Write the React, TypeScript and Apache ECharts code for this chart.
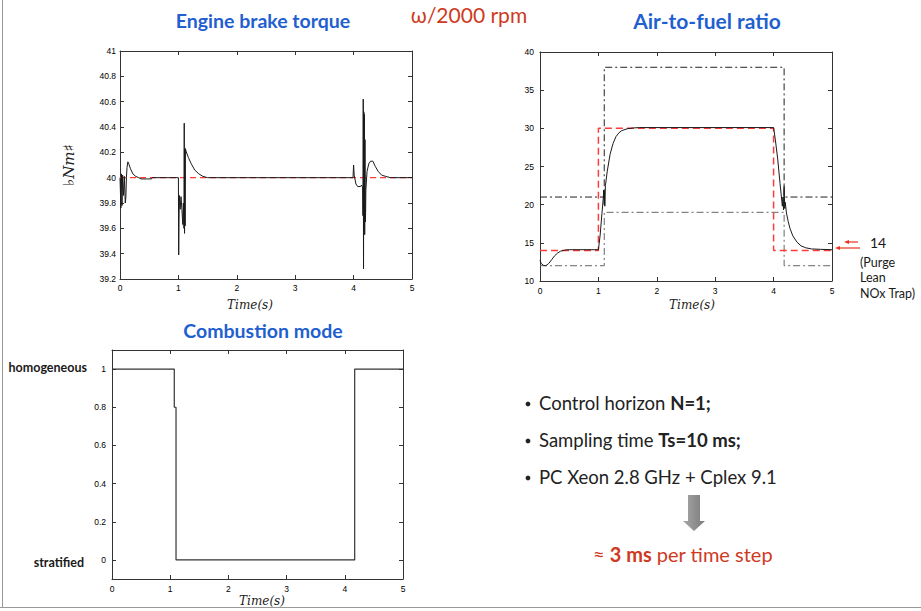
import React, { useEffect, useRef } from "react";
import * as echarts from "echarts";

// ---------- data ----------
const timeTicks = [0, 1, 2, 3, 4, 5];
const modeTicks = [0, 0.2, 0.4, 0.6, 0.8, 1];

const torqueRef: [number, number][] = [[0, 40], [5, 40]];
const torqueResp: [number, number][] = [
  [0, 40], [0.01, 40], [0.015, 39.76], [0.025, 40.03], [0.035, 39.78], [0.045, 40.02],
  [0.06, 39.86], [0.075, 40.01], [0.09, 39.8], [0.1, 39.84], [0.11, 40.0], [0.12, 40.08],
  [0.135, 40.125], [0.15, 40.11], [0.18, 40.07], [0.22, 40.03], [0.27, 40.01], [0.32, 40.0],
  [0.36, 39.99], [0.45, 39.99], [0.54, 39.99], [0.55, 40.0], [1.0, 40.0], [1.005, 39.39],
  [1.015, 39.86], [1.03, 39.75], [1.045, 39.85], [1.06, 39.75], [1.075, 39.63], [1.085, 39.8],
  [1.095, 39.6], [1.1, 40.43], [1.105, 39.56], [1.11, 40.22], [1.115, 39.62], [1.12, 40.23],
  [1.13, 40.21], [1.17, 40.16], [1.22, 40.11], [1.28, 40.06], [1.35, 40.03], [1.42, 40.01],
  [1.5, 40.0], [3.99, 40.0], [4.0, 40.1], [4.01, 40.02], [4.04, 39.95], [4.07, 39.93],
  [4.11, 39.93], [4.14, 39.94], [4.155, 39.92], [4.16, 39.7], [4.165, 40.62], [4.17, 39.28],
  [4.175, 40.52], [4.18, 39.6], [4.185, 40.5], [4.19, 39.55], [4.195, 40.3], [4.2, 39.65],
  [4.205, 39.7], [4.21, 39.9], [4.23, 40.05], [4.26, 40.11], [4.29, 40.13], [4.33, 40.13],
  [4.37, 40.09], [4.42, 40.05], [4.48, 40.02], [4.55, 40.01], [4.63, 40.0], [5, 40.0],
];

const afrRef: [number, number][] = [[0, 14], [1, 14], [1, 30], [4, 30], [4, 14], [5, 14]];
const afrResp: [number, number][] = [
  [0, 12.7], [0.02, 12.3], [0.06, 12.05], [0.1, 12.0], [0.15, 12.3], [0.2, 12.8], [0.25, 13.3],
  [0.3, 13.65], [0.35, 13.9], [0.4, 14.0], [0.45, 14.08], [0.5, 14.1], [1.0, 14.1], [1.03, 16],
  [1.06, 18.8], [1.085, 21.0], [1.09, 21.9], [1.1, 20.0], [1.105, 21.8], [1.11, 19.8],
  [1.12, 22.5], [1.15, 24.3], [1.2, 26.6], [1.25, 28.0], [1.3, 28.9], [1.35, 29.4], [1.4, 29.7],
  [1.5, 29.95], [1.6, 30.05], [1.7, 30.1], [4.0, 30.1], [4.03, 28.5], [4.07, 26], [4.11, 22.8],
  [4.15, 19.8], [4.16, 21], [4.17, 19.3], [4.18, 22.5], [4.19, 19.5], [4.2, 20.3], [4.22, 18.9],
  [4.25, 17.8], [4.28, 16.9], [4.33, 15.9], [4.4, 15.1], [4.47, 14.6], [4.55, 14.35],
  [4.65, 14.2], [4.8, 14.15], [5, 14.1],
];
const afrUpper: [number, number][] = [[0, 21], [1.1, 21], [1.1, 38], [4.18, 38], [4.18, 21], [5, 21]];
const afrLower: [number, number][] = [[0, 12], [1.1, 12], [1.1, 19], [4.18, 19], [4.18, 12], [5, 12]];

const modeData: [number, number][] = [
  [0, 1], [1.07, 1], [1.07, 0.8], [1.1, 0.8], [1.1, 0], [4.17, 0], [4.17, 1], [5, 1],
];

// ---------- styling helpers ----------
const tickFont = { fontSize: 8.5, fontFamily: "Liberation Sans", color: "#000" };
const fmt = (v: number) => String(Math.round(v * 10) / 10);
const serifItalic = { fontFamily: "DejaVu Serif", fontStyle: "italic", fontSize: 12 };
const frameLine = { lineStyle: { color: "#333", width: 1 }, onZero: false };
const tick = { inside: true, length: 4, lineStyle: { color: "#333" } };

function xAxes(grid: number, margin: number) {
  return [
    {
      type: "value", gridIndex: grid, min: 0, max: 5, interval: 1, position: "bottom",
      axisLine: frameLine, axisTick: tick,
      axisLabel: { ...tickFont, margin, formatter: fmt },
      splitLine: { show: false },
    },
    {
      type: "value", gridIndex: grid, min: 0, max: 5, interval: 1, position: "top",
      axisLine: frameLine, axisTick: tick,
      axisLabel: { show: false }, splitLine: { show: false },
    },
  ];
}

const blue = "#1f5fd0";
const red = "#cf3a1f";
const title = (text: string, x: number, y: number, size: number) => ({
  type: "text", x, y,
  style: { text, fontSize: size, fontWeight: "bold", fontFamily: "Lato", fill: blue, align: "center", verticalAlign: "middle" },
});
const plain = (text: string, x: number, y: number, size: number, align = "left", weight = "normal") => ({
  type: "text", x, y,
  style: { text, fontSize: size, fontWeight: weight, fontFamily: "Lato", fill: "#1a1a1a", align, verticalAlign: "middle" },
});
const timeLabel = (x: number, y: number) => ({
  type: "text", x, y,
  style: { text: "Time(s)", ...serifItalic, fill: "#222", align: "center", verticalAlign: "middle" },
});

const option: any = {
  animation: false,
  backgroundColor: "#fff",
  grid: [
    { left: 120, top: 51, width: 292, height: 228 },
    { left: 540, top: 52, width: 292, height: 229 },
    { left: 112, top: 350, width: 291, height: 229 },
  ],
  xAxis: [...xAxes(0, 4), ...xAxes(1, 5), ...xAxes(2, 5)],
  yAxis: [
    {
      type: "value", gridIndex: 0, min: 39.2, max: 41, interval: 0.2, position: "left",
      axisLine: frameLine, axisTick: tick,
      axisLabel: { ...tickFont, margin: 4, formatter: fmt },
      splitLine: { show: false },
      name: "♭Nm♯", nameLocation: "middle", nameGap: 44,
      nameTextStyle: { ...serifItalic, fontSize: 15, color: "#222" },
    },
    {
      type: "value", gridIndex: 0, min: 39.2, max: 41, interval: 0.2, position: "right",
      axisLine: frameLine, axisTick: tick,
      axisLabel: { show: false }, splitLine: { show: false },
    },
    {
      type: "value", gridIndex: 1, min: 10, max: 40, interval: 5, position: "left",
      axisLine: frameLine, axisTick: tick,
      axisLabel: { ...tickFont, margin: 6, formatter: fmt },
      splitLine: { show: false },
    },
    {
      type: "value", gridIndex: 1, min: 10, max: 40, interval: 5, position: "right",
      axisLine: frameLine, axisTick: tick,
      axisLabel: { show: false }, splitLine: { show: false },
    },
    {
      type: "value", gridIndex: 2, min: -0.1, max: 1.1, position: "left",
      axisLine: frameLine,
      axisTick: { ...tick, customValues: modeTicks },
      axisLabel: { ...tickFont, margin: 6, formatter: fmt, customValues: modeTicks },
      splitLine: { show: false },
    },
    {
      type: "value", gridIndex: 2, min: -0.1, max: 1.1, position: "right",
      axisLine: frameLine,
      axisTick: { ...tick, customValues: modeTicks },
      axisLabel: { show: false }, splitLine: { show: false },
    },
  ],
  series: [
    {
      type: "line", name: "Torque reference", xAxisIndex: 0, yAxisIndex: 0, data: torqueRef,
      symbol: "none", lineStyle: { color: "#ff3b3b", width: 1.3, type: [6, 4] }, z: 2,
    },
    {
      type: "line", name: "Torque", xAxisIndex: 0, yAxisIndex: 0, data: torqueResp,
      symbol: "none", lineStyle: { color: "#1a1a1a", width: 1 }, z: 3,
    },
    {
      type: "line", name: "AFR upper bound", xAxisIndex: 2, yAxisIndex: 2, data: afrUpper,
      symbol: "none", lineStyle: { color: "#222", width: 1, type: [7, 3, 2, 3] }, z: 2,
    },
    {
      type: "line", name: "AFR lower bound", xAxisIndex: 2, yAxisIndex: 2, data: afrLower,
      symbol: "none", lineStyle: { color: "#666", width: 1, type: [7, 3, 2, 3] }, z: 2,
    },
    {
      type: "line", name: "AFR reference", xAxisIndex: 2, yAxisIndex: 2, data: afrRef,
      symbol: "none", lineStyle: { color: "#ff3b3b", width: 1.5, type: [7, 4] }, z: 3,
    },
    {
      type: "line", name: "AFR", xAxisIndex: 2, yAxisIndex: 2, data: afrResp,
      symbol: "none", lineStyle: { color: "#1a1a1a", width: 1 }, z: 4,
    },
    {
      type: "line", name: "Combustion mode", xAxisIndex: 4, yAxisIndex: 4, data: modeData,
      symbol: "none", lineStyle: { color: "#333", width: 1.2 }, z: 3,
    },
  ],
  graphic: [
    // slide frame
    { type: "line", shape: { x1: 2.5, y1: 0, x2: 2.5, y2: 607.5 }, style: { stroke: "#999", lineWidth: 1 } },
    { type: "line", shape: { x1: 0, y1: 607.5, x2: 921, y2: 607.5 }, style: { stroke: "#999", lineWidth: 1 } },
    // titles
    title("Engine brake torque", 263, 20, 19.5),
    title("Air-to-fuel ratio", 707, 20, 21),
    title("Combustion mode", 263, 330, 19.5),
    {
      type: "text", x: 469, y: 14,
      style: { text: "ω/2000 rpm", fontSize: 21, fontFamily: "Lato", fill: red, align: "center", verticalAlign: "middle" },
    },
    // x axis names
    timeLabel(250, 305),
    timeLabel(692, 305),
    timeLabel(262, 601),
    // mode labels
    plain("homogeneous", 87, 367, 12.5, "right", "bold"),
    plain("stratified", 84, 562, 12.5, "right", "bold"),
    // 14 annotation with arrows
    { type: "line", shape: { x1: 848, y1: 242, x2: 858, y2: 242 }, style: { stroke: "#e8321e", lineWidth: 1.2 } },
    { type: "polygon", shape: { points: [[844, 242], [849, 240], [849, 244]] }, style: { fill: "#e8321e" } },
    { type: "line", shape: { x1: 839, y1: 248, x2: 860, y2: 248 }, style: { stroke: "#e8321e", lineWidth: 1.2 } },
    { type: "polygon", shape: { points: [[835, 248], [840, 246], [840, 250]] }, style: { fill: "#e8321e" } },
    plain("14", 870, 242, 14),
    plain("(Purge", 860, 262, 12.5),
    plain("Lean", 860, 277, 12.5),
    plain("NOx Trap)", 860, 293, 12.5),
    // bullets
    ...[
      { y: 403, a: "Control horizon ", b: "N=1;" },
      { y: 440, a: "Sampling time ", b: "Ts=10 ms;" },
      { y: 477, a: "PC Xeon 2.8 GHz + Cplex 9.1", b: "" },
    ].flatMap((t) => [
      { type: "circle", shape: { cx: 528, cy: t.y + 1, r: 2.4 }, style: { fill: "#222" } },
      {
        type: "text", x: 539, y: t.y,
        style: {
          text: `{a|${t.a}}` + (t.b ? `{b|${t.b}}` : ""),
          align: "left", verticalAlign: "middle",
          rich: {
            a: { fontSize: 18.5, fontFamily: "Lato", fill: "#222" },
            b: { fontSize: 18.5, fontFamily: "Lato", fontWeight: "bold", fill: "#222" },
          },
        },
      },
    ]),
    // down arrow
    {
      type: "polygon",
      shape: { points: [[688, 495], [700, 495], [700, 521], [705, 521], [694, 531], [683, 521], [688, 521]] },
      style: {
        fill: new echarts.graphic.LinearGradient(0, 0, 1, 0, [
          { offset: 0, color: "#a8a8a8" },
          { offset: 1, color: "#7a7a7a" },
        ]),
      },
    },
    {
      type: "text", x: 593, y: 554,
      style: {
        text: "{a|≈ }{b|3 ms}{a| per time step}",
        align: "left", verticalAlign: "middle",
        rich: {
          a: { fontSize: 20, fontFamily: "Lato", fill: red },
          b: { fontSize: 20, fontFamily: "Lato", fontWeight: "bold", fill: red },
        },
      },
    },
  ],
};

export default function App() {
  const ref = useRef<HTMLDivElement>(null);
  useEffect(() => {
    document.body.style.margin = "0";
    const chart = echarts.init(ref.current!, null, { renderer: "svg" });
    chart.setOption(option);
    return () => chart.dispose();
  }, []);
  return <div ref={ref} style={{ width: 921, height: 611 }} />;
}
